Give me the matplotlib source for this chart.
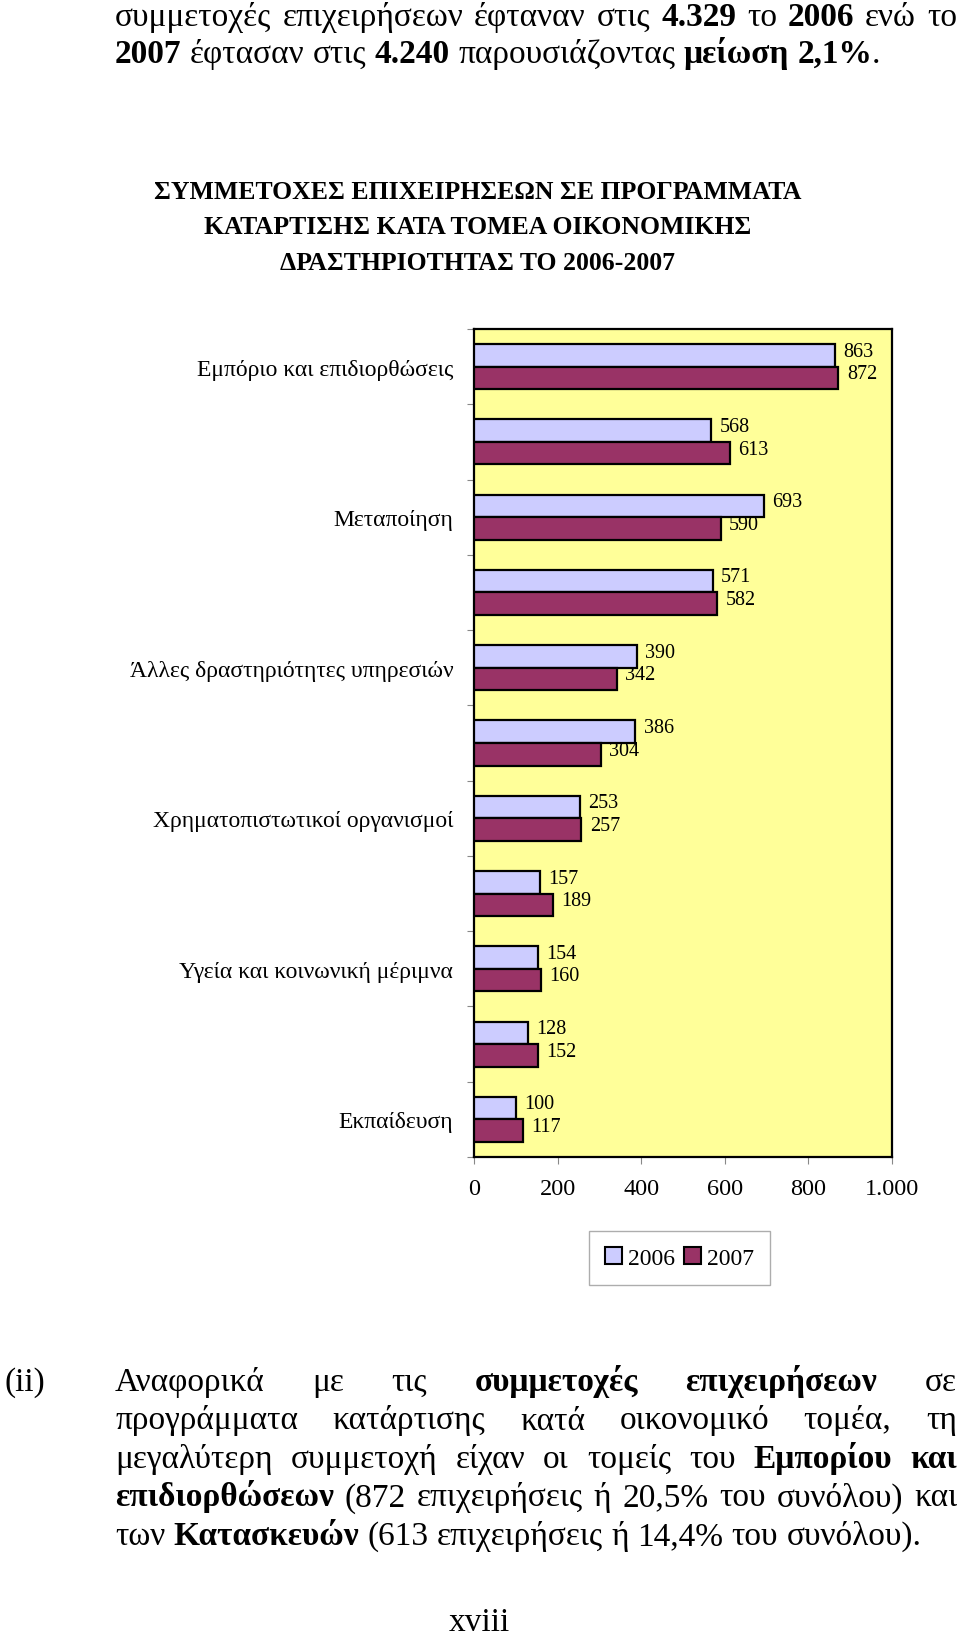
import numpy as np
import matplotlib
matplotlib.use("Agg")
import matplotlib.pyplot as plt
from matplotlib.patches import Patch

plt.rcParams['font.family'] = ['Liberation Serif', 'DejaVu Serif']

# data, top to bottom as in the chart
sectors = ["Εμπόριο και επιδιορθώσεις", "Κατασκευές", "Μεταποίηση", "",
           "Άλλες δραστηριότητες υπηρεσιών", "", "Χρηματοπιστωτικοί οργανισμοί", "",
           "Υγεία και κοινωνική μέριμνα", "", "Εκπαίδευση"]
v2006 = [863, 568, 693, 571, 390, 386, 253, 157, 154, 128, 100]
v2007 = [872, 613, 590, 582, 342, 304, 257, 189, 160, 152, 117]
years = ["2006", "2007"]
xticks = [0, 200, 400, 600, 800, 1000]
xtick_labels = ["0", "200", "400", "600", "800", "1.000"]

title_lines = ["ΣΥΜΜΕΤΟΧΕΣ ΕΠΙΧΕΙΡΗΣΕΩΝ ΣΕ ΠΡΟΓΡΑΜΜΑΤΑ",
               "ΚΑΤΑΡΤΙΣΗΣ ΚΑΤΑ ΤΟΜΕΑ ΟΙΚΟΝΟΜΙΚΗΣ",
               "ΔΡΑΣΤΗΡΙΟΤΗΤΑΣ ΤΟ 2006-2007"]

# page text: list of lines, each a list of (word, bold); flag = justified
top_text = [
    ([("συμμετοχές", 0), ("επιχειρήσεων", 0), ("έφταναν", 0), ("στις", 0), ("4.329", 1),
      ("το", 0), ("2006", 1), ("ενώ", 0), ("το", 0)], True),
    ([("2007", 1), ("έφτασαν", 0), ("στις", 0), ("4.240", 1), ("παρουσιάζοντας", 0),
      ("μείωση", 1), ("2,1%", 1), (".", 0)], False),
]
bottom_text = [
    ([("Αναφορικά", 0), ("με", 0), ("τις", 0), ("συμμετοχές", 1), ("επιχειρήσεων", 1), ("σε", 0)], True),
    ([("προγράμματα", 0), ("κατάρτισης", 0), ("κατά", 0), ("οικονομικό", 0), ("τομέα,", 0), ("τη", 0)], True),
    ([("μεγαλύτερη", 0), ("συμμετοχή", 0), ("είχαν", 0), ("οι", 0), ("τομείς", 0), ("του", 0),
      ("Εμπορίου", 1), ("και", 1)], True),
    ([("επιδιορθώσεων", 1), ("(872", 0), ("επιχειρήσεις", 0), ("ή", 0), ("20,5%", 0), ("του", 0),
      ("συνόλου)", 0), ("και", 0)], True),
    ([("των", 0), ("Κατασκευών", 1), ("(613", 0), ("επιχειρήσεις", 0), ("ή", 0), ("14,4%", 0),
      ("του", 0), ("συνόλου).", 0)], False),
]

W, H = 960, 1640
fs_body = 24
fig = plt.figure(figsize=(W / 100, H / 100), dpi=100)
renderer = fig.canvas.get_renderer()


def put_line(parts, base, x0, x1, size, justify):
    arts = []
    widths = []
    for w, b in parts:
        t = fig.text(0, 1 - base / H, w, fontsize=size, va='baseline', ha='left',
                     fontweight='bold' if b else 'normal')
        arts.append(t)
        widths.append(t.get_window_extent(renderer).width)
    space = 0.25 * size * 100 / 72
    if justify and len(parts) > 1:
        space = (x1 - x0 - sum(widths)) / (len(parts) - 1)
    x = x0
    for i, (t, wd) in enumerate(zip(arts, widths)):
        if i > 0 and parts[i][0] == "." and not justify:
            x -= space
        t.set_x(x / W)
        x += wd + space


for i, (parts, just) in enumerate(top_text):
    put_line(parts, 26 + 37 * i, 115, 957, fs_body, just)

for i, (parts, just) in enumerate(bottom_text):
    put_line(parts, 1391 + 38.5 * i, 115, 957, fs_body, just)
fig.text(5 / W, 1 - 1391 / H, "(ii)", fontsize=fs_body, va='baseline', ha='left')
fig.text(479 / W, 1 - 1631 / H, "xviii", fontsize=fs_body, va='baseline', ha='center')

for i, line in enumerate(title_lines):
    fig.text(478 / W, 1 - (199 + 35.5 * i) / H, line, fontsize=18.5, fontweight='bold',
             va='baseline', ha='center')

# chart
ax = fig.add_axes([474 / W, 1 - 1158 / H, (892 - 474) / W, (1158 - 330) / H])
ax.set_facecolor('#FFFF99')
n = len(sectors)
y = np.arange(n)
h = 0.30
b1 = ax.barh(y - h / 2, v2006, height=h, color='#CCCCFF', edgecolor='black', linewidth=1.6, zorder=3)
b2 = ax.barh(y + h / 2, v2007, height=h, color='#993366', edgecolor='black', linewidth=1.6, zorder=3)
for bars, vals in ((b1, v2006), (b2, v2007)):
    for bar, v in zip(bars, vals):
        ax.annotate(str(v), (v, bar.get_y() + bar.get_height() / 2), xytext=(6, 3),
                    textcoords='offset points', va='center', ha='left', fontsize=14.5, zorder=2)

ax.set_xlim(0, 1000)
ax.set_ylim(n - 0.5, -0.5)
ax.set_xticks(xticks)
ax.set_xticklabels(xtick_labels, fontsize=17.5)
ax.tick_params(axis='x', length=5, color='#888888', pad=10)
ax.set_yticks(np.arange(n + 1) - 0.5)
ax.set_yticklabels([])
ax.tick_params(axis='y', which='major', length=5, color='#888888')
ax.set_yticks(y[::2], minor=True)
ax.set_yticklabels([sectors[i] for i in y[::2]], minor=True, fontsize=17)
ax.tick_params(axis='y', which='minor', length=0, pad=15)
for s in ax.spines.values():
    s.set_linewidth(1.6)
    s.set_color('black')

handles = [Patch(facecolor='#CCCCFF', edgecolor='black', linewidth=1.5),
           Patch(facecolor='#993366', edgecolor='black', linewidth=1.5)]
leg = fig.legend(handles, years, loc='center', bbox_to_anchor=(679.5 / W, 1 - 1259 / H),
                 ncol=2, fontsize=17, frameon=True, fancybox=False, edgecolor='#999999',
                 handlelength=0.7, handleheight=0.7, handletextpad=0.25, columnspacing=0.4,
                 borderpad=0.7, borderaxespad=0)
leg.get_frame().set_linewidth(1.0)

fig.savefig("out.png", dpi=100, facecolor='white')
